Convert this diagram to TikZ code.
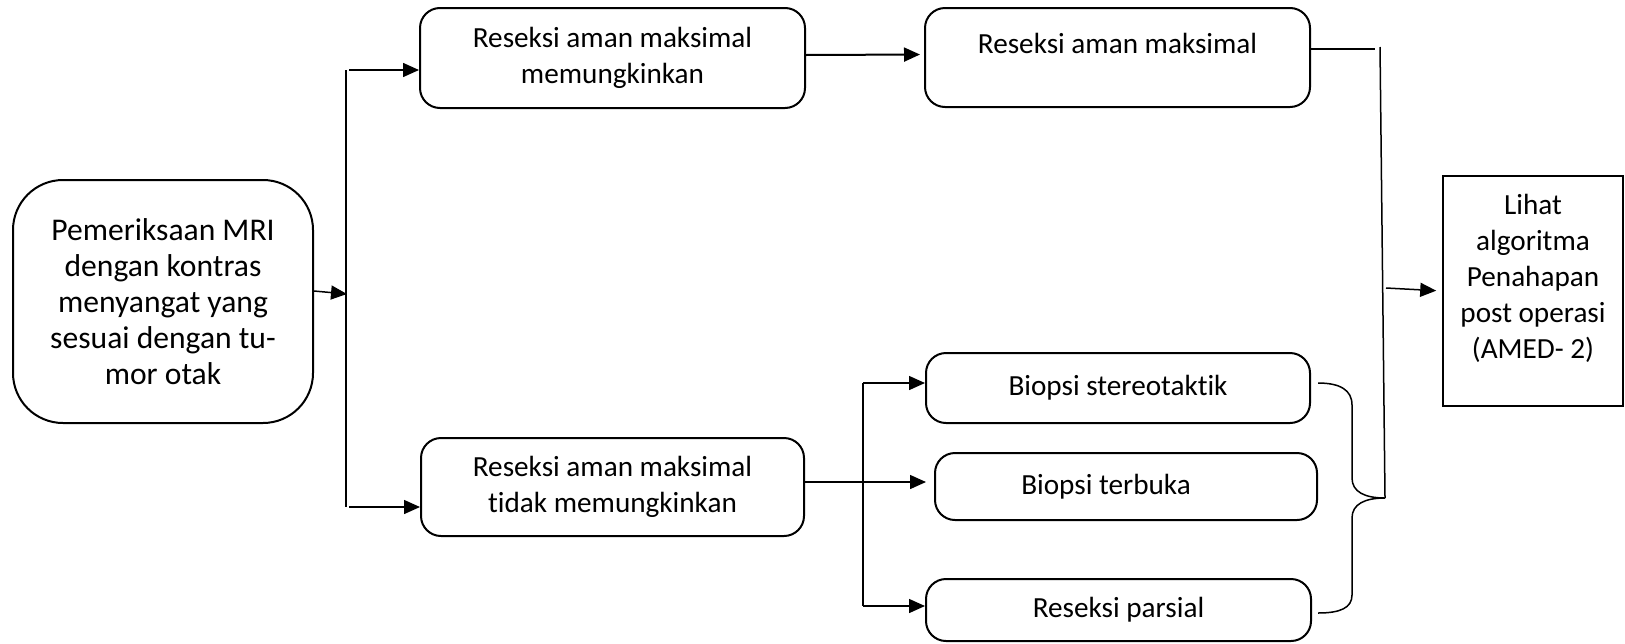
\documentclass[tikz,border=0pt]{standalone}
\usepackage{fontspec}
\setmainfont{Carlito}[Ligatures=NoCommon]
\usetikzlibrary{arrows.meta}
\begin{document}
\begin{tikzpicture}[x=0.5pt,y=-0.5pt,
  txt/.style={font=\fontsize{14.6pt}{18pt}\selectfont, align=center, inner sep=0pt},
  rbox/.style={txt, draw, line width=1pt, rounded corners=10pt},
  sbox/.style={txt, draw, line width=0.8pt},
  conn/.style={line width=0.75pt},
  arr/.style={conn, -{Triangle[length=8pt,width=7pt]}}]
\useasboundingbox (0,0) rectangle (1625,643);

% boxes
\node[rbox, rounded corners=25pt, minimum width=150pt, minimum height=121.5pt,
      font=\fontsize{15.8pt}{18pt}\selectfont] (mri) at (163,301.5)
  {Pemeriksaan MRI\\dengan kontras\\menyangat yang\\sesuai dengan tu-\\mor otak};
\node[rbox, minimum width=192.5pt, minimum height=50pt] (b1) at (612.5,58)
  {Reseksi aman maksimal\\memungkinkan};
\node[rbox, minimum width=191.5pt, minimum height=49pt] (b2) at (612.5,487)
  {Reseksi aman maksimal\\tidak memungkinkan};
\node[rbox, minimum width=192.5pt, minimum height=49.5pt] (b3) at (1117.5,57.5)
  {Reseksi aman maksimal\rule[-14.5pt]{0pt}{1pt}};
\node[rbox, minimum width=192pt, minimum height=35pt] (bs) at (1118,388)
  {Biopsi stereotaktik};
\node[rbox, minimum width=191pt, minimum height=33.5pt] (bt) at (1126,486.5)
  {Biopsi terbuka\hspace*{20pt}};
\node[rbox, minimum width=192.5pt, minimum height=31pt] (rp) at (1118.5,610)
  {Reseksi parsial};
\node[sbox, minimum width=90pt, minimum height=115pt] (fin) at (1533,291)
  {Lihat\\algoritma\\Penahapan\\post operasi\\(AMED- 2)\rule[-15pt]{0pt}{1pt}};

% left trunk
\coordinate (tA) at (346,70);
\coordinate (tB) at (346,507);
\coordinate (tM) at (347,294);
\draw[conn] (tA) -- (tB);
\draw[arr] ([yshift=5.25pt]mri.east) -- (tM);
\draw[arr] ([xshift=1.5pt]tA) -- (b1.west |- tA);
\draw[arr] ([xshift=1.5pt]tB) -- (b2.west |- tB);

% upper path
\draw[arr, line width=1pt, shorten >=2pt] ([yshift=1.5pt]b1.east) -- ([yshift=1.5pt]b3.west);
\coordinate (rA) at (1375,49);
\coordinate (rT) at (1380,47);
\coordinate (rB) at (1385,498);
\coordinate (rM) at (1386,288);
\draw[conn] ([yshift=4.25pt]b3.east) -- (rA);
\draw[conn] (rT) -- (rB);
\draw[arr, shorten >=3pt] (rM) -- (fin.west);

% lower branches
\coordinate (lT) at (863,383);
\coordinate (lM) at (863,482);
\coordinate (lB) at (863,606);
\draw[conn] ([yshift=2.5pt]b2.east) -- (lM);
\draw[conn] (lT) -- (lB);
\draw[arr] (lT) -- (bs.west |- lT);
\draw[arr, shorten >=4pt] (lM) -- (bt.west |- lM);
\draw[arr] (lB) -- (rp.west |- lB);

% brace joining the three outcomes
\draw[conn] (1318,383) .. controls (1340,383) and (1352,390) .. (1352,405)
  -- (1352,478) .. controls (1352,492) and (1365,498) .. (rB)
  .. controls (1365,498) and (1352,504) .. (1352,518)
  -- (1352,595) .. controls (1352,608) and (1340,613) .. (1318,613);
\end{tikzpicture}
\end{document}
